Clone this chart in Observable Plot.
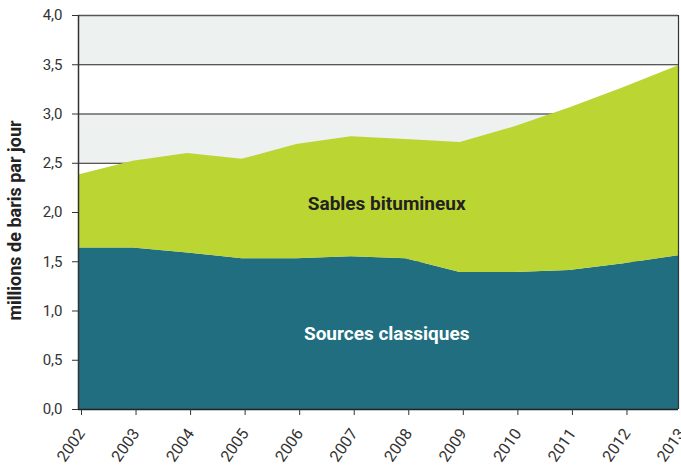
<!DOCTYPE html>
<html>
<head>
<meta charset="utf-8">
<script src="https://cdn.jsdelivr.net/npm/d3@7"></script>
<script src="https://cdn.jsdelivr.net/npm/@observablehq/plot@0.6"></script>
<style>
  html, body { margin: 0; padding: 0; background: #fff; }
  #chart svg { display: block; }
</style>
</head>
<body>
<div id="chart"></div>
<script>
const years = [2002, 2003, 2004, 2005, 2006, 2007, 2008, 2009, 2010, 2011, 2012, 2013];
const sourcesClassiques = [1.64, 1.64, 1.59, 1.53, 1.53, 1.55, 1.53, 1.39, 1.39, 1.41, 1.48, 1.56];
const sablesBitumineux = [0.74, 0.88, 1.01, 1.01, 1.16, 1.22, 1.21, 1.32, 1.48, 1.65, 1.79, 1.93];
const seriesNames = ["Sources classiques", "Sables bitumineux"];
const seriesColors = ["#216e80", "#bbd532"];
const yTicks = [0, 0.5, 1, 1.5, 2, 2.5, 3, 3.5, 4];
const grayBands = [[0.5, 1], [1.5, 2], [2.5, 3], [3.5, 4]];
const yLabel = "millions de baris par jour";

const rows = [];
years.forEach((yr, i) => {
  rows.push({year: yr, series: seriesNames[0], value: sourcesClassiques[i]});
  rows.push({year: yr, series: seriesNames[1], value: sablesBitumineux[i]});
});

const font = "Roboto, 'Liberation Sans', sans-serif";
const fmt = d => d3.format(".1f")(d).replace(".", ",");

const chart = Plot.plot({
  width: 681,
  height: 469,
  marginLeft: 78,
  marginRight: 3,
  marginTop: 15,
  marginBottom: 60,
  style: {fontFamily: font, color: "#333", background: "#fff"},
  x: {type: "linear", domain: [2002, 2013]},
  y: {domain: [0, 4]},
  color: {domain: seriesNames, range: seriesColors},
  marks: [
    Plot.rect(grayBands, {y1: d => d[0], y2: d => d[1], fill: "#edf1f0"}),
    Plot.ruleY(yTicks, {stroke: "#222", strokeWidth: 1}),
    Plot.areaY(rows, Plot.stackY({x: "year", y: "value", z: "series", fill: "series", order: seriesNames})),
    Plot.ruleY([4], {stroke: "#555", strokeWidth: 1.5}),
    Plot.ruleX([2013], {stroke: "#333", strokeWidth: 1.2}),
    Plot.ruleX([2002], {stroke: "#333", strokeWidth: 1.5}),
    Plot.ruleY([0], {stroke: "#222", strokeWidth: 1.5}),
    Plot.axisY({ticks: yTicks, tickFormat: fmt, tickSize: 6, tickPadding: 10, fontSize: 15, label: null}),
    Plot.axisX({ticks: years, tickFormat: d => String(d), tickSize: 6, tickPadding: 15, dx: 3, tickRotate: -55, fontSize: 16, label: null}),
    Plot.text([yLabel], {frameAnchor: "left", textAnchor: "middle", rotate: -90, dx: -63, dy: 8, fontSize: 18, fontWeight: "bold", fill: "#222"}),
    Plot.text(["Sables bitumineux"], {x: [2007.65], y: [2.09], fontSize: 19, fontWeight: "bold", fill: "#222"}),
    Plot.text(["Sources classiques"], {x: [2007.65], y: [0.77], fontSize: 19, fontWeight: "bold", fill: "#fff"})
  ]
});
document.getElementById("chart").appendChild(chart);
</script>
</body>
</html>
